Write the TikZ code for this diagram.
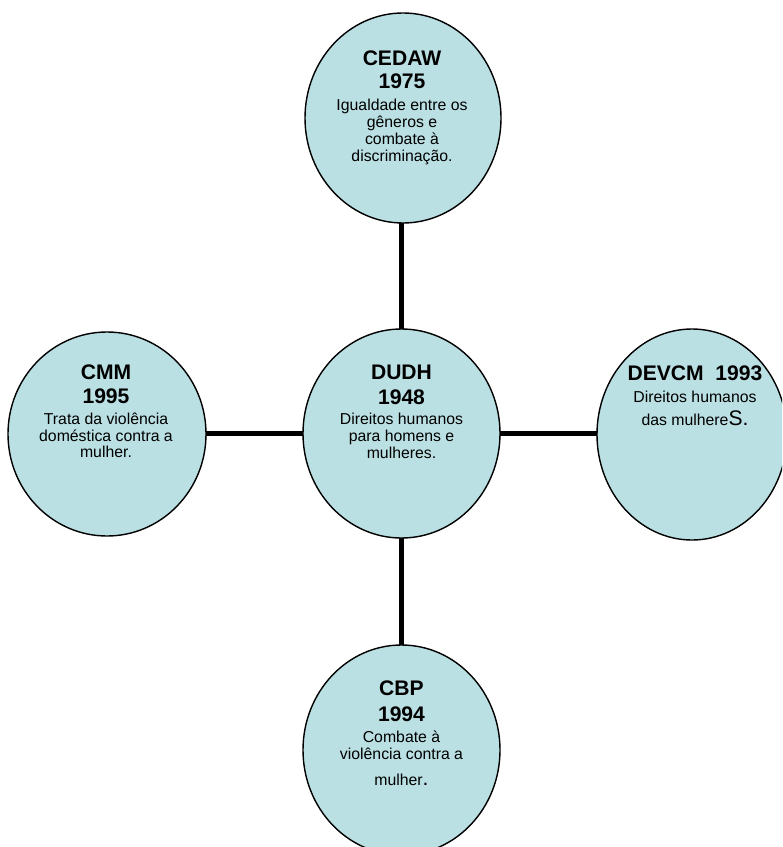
\documentclass[tikz,border=0pt]{standalone}
\usepackage{fontspec}
\setmainfont{Liberation Sans}
\usetikzlibrary{shapes.geometric}
\definecolor{bolhaazul}{RGB}{187,224,227}
\newcommand{\titulo}{\fontsize{18}{20.5}\selectfont\bfseries}
\pgfdeclarelayer{fundo}
\pgfsetlayers{fundo,main}

\begin{document}
\begin{tikzpicture}[x=0.03cm,y=-0.03cm,
    bolha/.style={ellipse,draw=black,line width=1.2pt,fill=bolhaazul,inner sep=0pt},
    texto/.style={anchor=north,inner sep=0pt,align=center,font=\fontsize{13.5}{14.5}\selectfont},
    ligacao/.style={line width=4.3pt}]
    \useasboundingbox (0,0) rectangle (782,847);
    \clip (0,0) rectangle (782,847);

    \node[bolha,minimum width=5.88cm,minimum height=6.3cm] (cedaw) at (403,118) {};
    \node[bolha,minimum width=5.91cm,minimum height=6.27cm] (dudh) at (401.5,433.5) {};
    \node[bolha,minimum width=5.94cm,minimum height=6.12cm] (cmm) at (107,434) {};
    \node[bolha,minimum width=5.7cm,minimum height=6.33cm] (devcm) at (692,434.5) {};
    \node[bolha,minimum width=5.91cm,minimum height=6.3cm] (cbp) at (401.5,750) {};

    \begin{pgfonlayer}{fundo}
        \draw[ligacao] (dudh.center) -- (dudh.center |- cedaw.center);
        \draw[ligacao] (dudh.center) -- (dudh.center |- cbp.center);
        \draw[ligacao] (dudh.center) -- (dudh.center -| cmm.center);
        \draw[ligacao] (dudh.center) -- (dudh.center -| devcm.center);
    \end{pgfonlayer}

    \node[texto] (t-cedaw) at (402,51) {{\titulo CEDAW}\\[5pt]{\titulo 1975}\\[4.3pt]Igualdade entre os\\gêneros e\\combate à\\discriminação.};
    \node[texto] (t-dudh) at (401.5,365) {{\titulo DUDH}\\[6.8pt]{\titulo 1948}\\[2.6pt]Direitos humanos\\para homens e\\mulheres.};
    \node[texto] (t-cmm) at (106,365) {{\titulo CMM}\\[6pt]{\titulo 1995}\\[2.6pt]Trata da violência\\doméstica contra a\\mulher.};
    \node[texto] (t-devcm) at (695,366) {{\titulo DEVCM\ \ 1993}\\[4.3pt]Direitos humanos\\[5.1pt]das mulhere{\fontsize{18}{18}\selectfont S.}};
    \node[texto] (t-cbp) at (401.5,681) {{\titulo CBP}\\[7.7pt]{\titulo 1994}\\[2.6pt]Combate à\\violência contra a\\[7.7pt]mulher{\fontsize{18}{18}\selectfont .}};
\end{tikzpicture}
\end{document}
